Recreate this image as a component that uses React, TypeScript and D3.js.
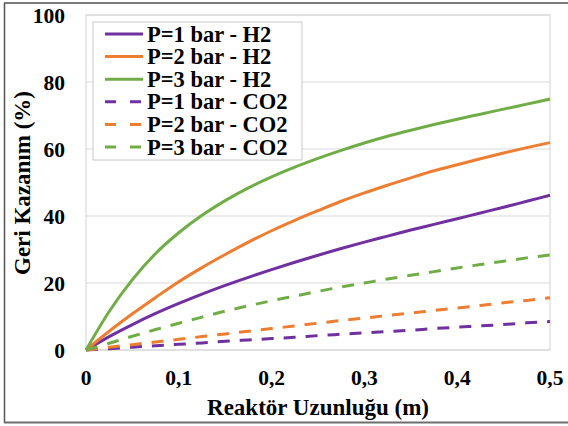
import React from "react";
import * as d3 from "d3";

// Reactor length (m)
const lengths = [
  0, 0.025, 0.05, 0.075, 0.1, 0.125, 0.15, 0.175, 0.2, 0.225, 0.25,
  0.275, 0.3, 0.325, 0.35, 0.375, 0.4, 0.425, 0.45, 0.475, 0.5,
];

// Recovery (%) per pressure and gas
const h2P1 = [0, 4.0, 7.6, 10.9, 13.9, 16.7, 19.3, 21.7, 24.0, 26.2, 28.3, 30.3, 32.2, 34.0, 35.8, 37.5, 39.2, 40.9, 42.6, 44.4, 46.2];
const h2P2 = [0, 5.6, 10.8, 15.7, 20.4, 24.6, 28.5, 32.2, 35.6, 38.7, 41.6, 44.4, 46.9, 49.2, 51.4, 53.5, 55.3, 57.1, 58.8, 60.4, 61.9];
const h2P3 = [0, 11.5, 21.0, 28.8, 35.0, 40.2, 44.6, 48.4, 51.7, 54.6, 57.2, 59.6, 61.8, 63.8, 65.6, 67.3, 68.9, 70.4, 71.9, 73.4, 74.9];
const co2P1 = [0, 0.4, 0.85, 1.3, 1.7, 2.1, 2.6, 3.0, 3.4, 3.8, 4.3, 4.7, 5.1, 5.5, 5.9, 6.4, 6.8, 7.2, 7.6, 8.1, 8.5];
const co2P2 = [0, 0.8, 1.6, 2.4, 3.2, 4.0, 4.8, 5.6, 6.4, 7.2, 8.0, 8.8, 9.5, 10.3, 11.0, 11.8, 12.5, 13.3, 14.1, 14.8, 15.6];
const co2P3 = [0, 2.0, 4.1, 6.1, 8.0, 9.8, 11.6, 13.2, 14.7, 16.1, 17.5, 18.8, 20.0, 21.2, 22.3, 23.4, 24.5, 25.5, 26.5, 27.5, 28.4];

const seriesNames = [
  "P=1 bar - H2",
  "P=2 bar - H2",
  "P=3 bar - H2",
  "P=1 bar - CO2",
  "P=2 bar - CO2",
  "P=3 bar - CO2",
];
const seriesValues = [h2P1, h2P2, h2P3, co2P1, co2P2, co2P3];
const seriesColors = ["#7030A0", "#ED7D31", "#70AD47", "#7030A0", "#ED7D31", "#70AD47"];
const seriesDashed = [false, false, false, true, true, true];

const xTicks = [0, 0.1, 0.2, 0.3, 0.4, 0.5];
const yTicks = [0, 20, 40, 60, 80, 100];

const W = 568;
const H = 426;
const plot = { left: 86, right: 550, top: 15, bottom: 350 };
const FONT = "Liberation Serif";
const DASH = "12 10";

export default function App() {
  const x = d3.scaleLinear().domain([0, 0.5]).range([plot.left, plot.right]);
  const y = d3.scaleLinear().domain([0, 100]).range([plot.bottom, plot.top]);
  const fmt = (v: number) => (v === 0 ? "0" : String(v).replace(".", ","));

  const line = d3
    .line<number>()
    .x((_, i) => x(lengths[i]))
    .y((d) => y(d))
    .curve(d3.curveMonotoneX);

  const legend = { x: 93, y: 22, w: 209, h: 138, row0: 34, step: 22.6 };

  return (
    <svg
      width={W}
      height={H}
      style={{ position: "absolute", left: 0, top: 0, background: "#fff" }}
      fontFamily={FONT}
      fontWeight="bold"
    >
      {/* outer frame */}
      <rect x={0} y={0} width={W} height={H} fill="#fff" />
      <line x1={4} x2={W} y1={3} y2={3} stroke="#7a7a7a" strokeWidth={2} />
      <line x1={4.5} x2={4.5} y1={3} y2={423} stroke="#555" strokeWidth={1.5} />
      <line x1={4} x2={W} y1={422.5} y2={422.5} stroke="#6e6e6e" strokeWidth={2} />

      {/* gridlines and plot frame */}
      {yTicks.map((t) => (
        <line key={"g" + t} x1={plot.left} x2={plot.right} y1={y(t)} y2={y(t)} stroke="#d9d9d9" strokeWidth={1} />
      ))}
      <rect
        x={plot.left}
        y={plot.top}
        width={plot.right - plot.left}
        height={plot.bottom - plot.top}
        fill="none"
        stroke="#d9d9d9"
        strokeWidth={1.2}
      />

      {/* y tick labels */}
      {yTicks.map((t) => (
        <text key={"yt" + t} x={65} y={y(t) + 7.5} textAnchor="end" fontSize={21.5} fill="#000">
          {fmt(t)}
        </text>
      ))}

      {/* x tick labels */}
      {xTicks.map((t) => (
        <text key={"xt" + t} x={x(t)} y={385} textAnchor="middle" fontSize={21.5} fill="#000">
          {fmt(t)}
        </text>
      ))}

      {/* axis titles */}
      <text x={318} y={415} textAnchor="middle" fontSize={23} fill="#000">
        Reaktör Uzunluğu (m)
      </text>
      <text transform="translate(30, 183) rotate(-90)" textAnchor="middle" fontSize={23} fill="#000">
        Geri Kazanım (%)
      </text>

      {/* series */}
      {seriesValues.map((vals, i) => (
        <path
          key={"s" + i}
          d={line(vals) || ""}
          fill="none"
          stroke={seriesColors[i]}
          strokeWidth={3}
          strokeDasharray={seriesDashed[i] ? DASH : undefined}
        />
      ))}

      {/* legend */}
      <rect x={legend.x} y={legend.y} width={legend.w} height={legend.h} fill="#fff" stroke="#c8c8c8" strokeWidth={1} />
      {seriesNames.map((name, i) => {
        const cy = legend.row0 + i * legend.step;
        return (
          <g key={"l" + i}>
            <line
              x1={105}
              x2={143}
              y1={cy}
              y2={cy}
              stroke={seriesColors[i]}
              strokeWidth={3}
              strokeDasharray={seriesDashed[i] ? "11 14" : undefined}
            />
            <text x={147} y={cy + 7.5} fontSize={22.5} fill="#000">
              {name}
            </text>
          </g>
        );
      })}
    </svg>
  );
}
